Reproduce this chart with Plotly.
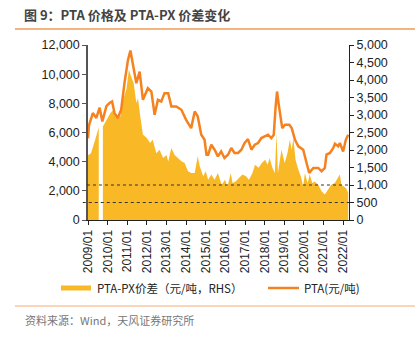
import plotly.graph_objects as go

# PTA spot price (CNY/t, left axis)
pta_dates = [
    "2009-01-01", "2009-01-20", "2009-04-01", "2009-06-05", "2009-08-05", "2009-09-25",
    "2009-12-10", "2010-02-05", "2010-03-25", "2010-05-10", "2010-07-10", "2010-09-10",
    "2010-11-15", "2011-01-15", "2011-03-01", "2011-04-15", "2011-06-20", "2011-08-20",
    "2011-10-20", "2012-01-20", "2012-03-25", "2012-05-25", "2012-07-25", "2012-09-25",
    "2012-11-25", "2013-02-01", "2013-04-01", "2013-07-01", "2013-10-05", "2014-01-01",
    "2014-04-05", "2014-06-10", "2014-08-05", "2014-10-10", "2014-12-10", "2015-01-15",
    "2015-02-15", "2015-04-15", "2015-06-15", "2015-08-15", "2015-10-15", "2015-12-15",
    "2016-02-20", "2016-04-20", "2016-06-20", "2016-08-25", "2016-10-25", "2016-12-25",
    "2017-02-25", "2017-04-30", "2017-07-01", "2017-09-01", "2017-11-01", "2018-01-01",
    "2018-03-05", "2018-05-05", "2018-06-20", "2018-07-25", "2018-08-20", "2018-09-25",
    "2018-11-25", "2019-01-15", "2019-04-05", "2019-05-20", "2019-07-20", "2019-09-20",
    "2019-12-20", "2020-02-20", "2020-04-10", "2020-06-25", "2020-09-25", "2020-11-25",
    "2021-01-25", "2021-02-25", "2021-05-01", "2021-07-01", "2021-08-01", "2021-10-01",
    "2021-11-01", "2022-01-01", "2022-02-20", "2022-04-05",
]
pta_price = [
    5600, 6500, 7330, 7000, 7700, 6760,
    7800, 8020, 8130, 7330, 6990, 7560,
    9500, 10980, 11620, 10640, 9380, 10180,
    8240, 9040, 8810, 7220, 8240, 8130,
    8700, 8700, 7790, 7790, 7560, 6870,
    6300, 7440, 7100, 5850, 5500, 4480,
    4480, 5160, 4820, 4360, 4700, 4250,
    4480, 4940, 4600, 4600, 4820, 5280,
    5550, 4820, 5160, 5280, 5620, 5730,
    5850, 5620, 5850, 7790, 8810, 7790,
    6300, 6530, 6530, 6300, 5500, 5050,
    4820, 3910, 3230, 3570, 3570, 3340,
    3570, 4480, 4600, 4940, 5230, 5050,
    5280, 4700, 5500, 5850,
]

# PTA-PX spread (CNY/t, right axis); None marks the missing stretch in 2009
spread_dates = [
    "2009-01-01", "2009-02-25", "2009-05-15", "2009-07-20", "2009-08-01", "2009-10-05",
    "2009-12-20", "2010-02-20", "2010-04-20", "2010-06-25", "2010-08-25", "2010-10-25",
    "2010-12-15", "2011-02-01", "2011-03-15", "2011-05-01", "2011-06-20", "2011-07-20",
    "2011-09-01", "2011-10-20", "2012-01-01", "2012-03-01", "2012-04-20", "2012-06-25",
    "2012-08-25", "2012-10-30", "2013-01-01", "2013-02-01", "2013-04-01", "2013-06-01",
    "2013-08-01", "2013-10-05", "2013-12-05", "2014-02-05", "2014-04-05", "2014-06-10",
    "2014-08-05", "2014-09-10", "2014-11-15", "2015-01-01", "2015-02-15", "2015-04-15",
    "2015-06-15", "2015-08-15", "2015-10-25", "2015-12-25", "2016-02-10", "2016-04-10",
    "2016-05-15", "2016-07-10", "2016-09-10", "2016-11-15", "2017-01-20", "2017-03-15",
    "2017-05-20", "2017-07-05", "2017-09-10", "2017-11-10", "2018-01-10", "2018-02-25",
    "2018-04-05", "2018-05-25", "2018-07-10", "2018-08-10", "2018-09-05", "2018-11-10",
    "2019-01-10", "2019-03-01", "2019-04-15", "2019-05-20", "2019-06-20", "2019-07-30",
    "2019-09-20", "2019-11-05", "2019-12-20", "2020-01-20", "2020-03-10", "2020-04-20",
    "2020-06-05", "2020-07-20", "2020-09-25", "2020-11-25", "2021-01-25", "2021-03-25",
    "2021-05-25", "2021-07-30", "2021-09-30", "2021-11-01", "2021-12-01", "2022-01-15",
    "2022-02-25", "2022-04-05",
]
pta_px_spread = [
    1850, 1910, 2290, 2650, None, 2670,
    2860, 3050, 3150, 2910, 2960, 3480,
    3720, 4290, 4100, 3910, 3340, 3480,
    2960, 2440, 2340, 2200, 2290, 1910,
    2010, 1770, 1860, 1670, 2060, 1860,
    1770, 1680, 1630, 1390, 1340, 1340,
    1820, 1540, 1250, 1390, 1150, 1300,
    1150, 1340, 1010, 1150, 960, 1340,
    1060, 1100, 1200, 1300, 1250, 1150,
    1340, 1580, 1490, 1630, 1720, 1580,
    1770, 1490, 1340, 2480, 1340, 2010,
    1630, 1910, 2290, 2010, 2340, 1720,
    1440, 1250, 960, 1340, 1060, 1300,
    1060, 1100, 1010, 820, 730, 870,
    1010, 1060, 1200, 1300, 1010, 960,
    910, 780,
]

# reference levels on the spread axis
spread_refs = [1000, 500]

AREA_COLOR = "#F9B926"
LINE_COLOR = "#F5821F"
FONT = "Liberation Sans, Arial, Noto Sans CJK SC, sans-serif"
CJK = "Noto Sans CJK SC, sans-serif"

W, H = 420, 340
L, R, T, B = 88, 349, 45, 220  # plot box in pixels


def px(x):
    return (x - L) / (R - L)


def py(y):
    return (B - y) / (B - T)


# split the spread series at missing values so each run gets its own fill
segments, cur = [], ([], [])
for d, v in zip(spread_dates, pta_px_spread):
    if v is None:
        if cur[0]:
            segments.append(cur)
        cur = ([], [])
    else:
        cur[0].append(d)
        cur[1].append(v)
if cur[0]:
    segments.append(cur)

fig = go.Figure()
for seg_x, seg_y in segments:
    fig.add_trace(go.Scatter(
        x=seg_x, y=seg_y, yaxis="y", mode="lines",
        line=dict(width=0, color=AREA_COLOR), fill="tozeroy", fillcolor=AREA_COLOR,
        name="PTA-PX价差（元/吨，RHS）", showlegend=False,
    ))
fig.add_trace(go.Scatter(
    x=pta_dates, y=pta_price, yaxis="y2", mode="lines",
    line=dict(width=2.5, color=LINE_COLOR), name="PTA(元/吨)", showlegend=False,
))

shapes = []
for lvl, x0 in zip(spread_refs, [-0.004, -0.02]):
    shapes.append(dict(type="line", xref="paper", yref="y", x0=x0, x1=1, y0=lvl, y1=lvl,
                       line=dict(color="#333", width=1, dash="3px,3px"), layer="above"))
# rule under the title and above the source note
shapes.append(dict(type="line", xref="paper", yref="paper", x0=px(15), x1=px(415),
                   y0=py(29), y1=py(29), line=dict(color="#EE9A55", width=1.5)))
shapes.append(dict(type="line", xref="paper", yref="paper", x0=px(15), x1=px(415),
                   y0=py(306), y1=py(306), line=dict(color="#F7C9A3", width=1.5)))
# legend keys
shapes.append(dict(type="rect", xref="paper", yref="paper", x0=px(61), x1=px(91),
                   y0=py(290.5), y1=py(285.5), fillcolor=AREA_COLOR, line=dict(width=0)))
shapes.append(dict(type="line", xref="paper", yref="paper", x0=px(268), x1=px(299),
                   y0=py(288), y1=py(288), line=dict(color=LINE_COLOR, width=2.5)))

annotations = [
    dict(text="PTA-PX价差（元/吨，RHS）", xref="paper", yref="paper", x=px(95), y=py(288),
         xanchor="left", yanchor="middle", showarrow=False,
         font=dict(family=CJK, size=11.5, color="#222")),
    dict(text="PTA(元/吨)", xref="paper", yref="paper", x=px(302), y=py(288),
         xanchor="left", yanchor="middle", showarrow=False,
         font=dict(family=CJK, size=11.5, color="#222")),
    dict(text="资料来源：Wind，天风证券研究所", xref="paper", yref="paper", x=px(23), y=py(320),
         xanchor="left", yanchor="middle", showarrow=False,
         font=dict(family=CJK, size=11, color="#777")),
]

fig.update_layout(
    width=W, height=H,
    margin=dict(l=L, r=W - R, t=T, b=H - B, pad=0),
    paper_bgcolor="white", plot_bgcolor="white",
    font=dict(family=FONT, size=12, color="#222"),
    title=dict(text="<b>图 9：PTA 价格及 PTA-PX 价差变化</b>", x=24 / W, y=1 - 15 / H,
               xanchor="left", yanchor="middle",
               font=dict(family=CJK, size=13, color="#444")),
    xaxis=dict(type="date", range=["2009-01-01", "2022-04-20"],
               tick0="2009-01-01", dtick="M12", tickformat="%Y/%m", tickangle=-90,
               ticks="outside", ticklen=4, tickcolor="#222", showline=True,
               linecolor="#222", linewidth=1, showgrid=False, zeroline=False,
               tickfont=dict(size=12)),
    yaxis=dict(side="right", range=[0, 5000], dtick=500, tickformat=",d",
               ticks="outside", ticklen=4, tickcolor="#222", showline=True,
               linecolor="#222", linewidth=1, showgrid=False, zeroline=False,
               tickfont=dict(size=12.5)),
    yaxis2=dict(side="left", overlaying="y", range=[0, 12000], dtick=2000, tickformat=",d",
                ticks="outside", ticklen=4, tickcolor="#555", showline=True,
                linecolor="#555", linewidth=1.5, showgrid=False, zeroline=False,
                tickfont=dict(size=12.5)),
    shapes=shapes, annotations=annotations,
)

fig.write_html("out.html")
